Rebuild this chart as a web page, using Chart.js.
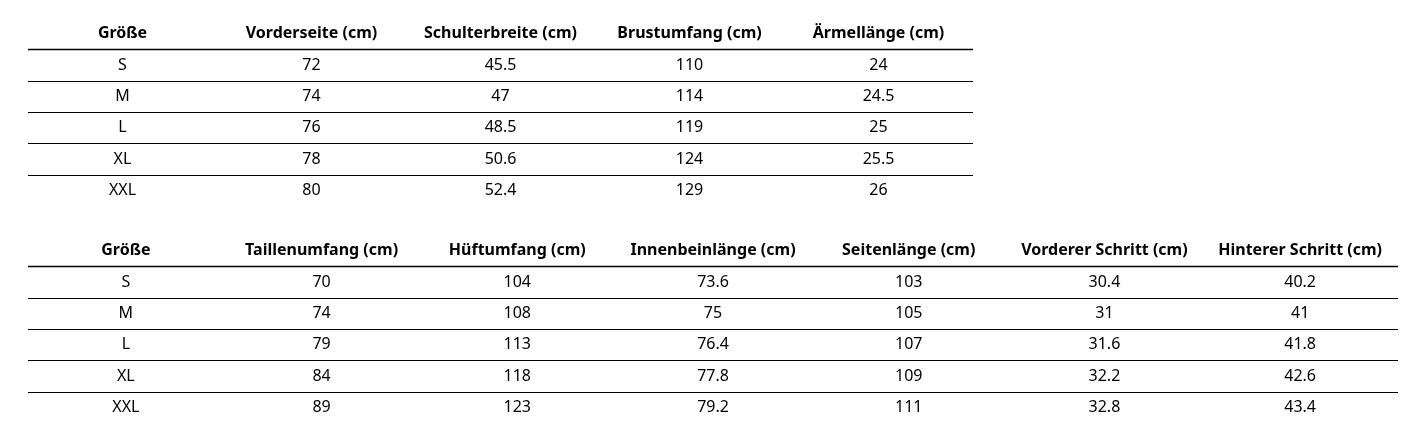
<!DOCTYPE html>
<html>
<head>
<meta charset="utf-8">
<script src="https://cdn.jsdelivr.net/npm/chart.js@4/dist/chart.umd.min.js"></script>
<style>
  body { margin: 0; background: #fff; width: 1417px; height: 427px; position: relative; overflow: hidden; }
  canvas { position: absolute; }
</style>
</head>
<body>
<canvas id="topTable" width="945" height="188" style="left:28px;top:18px"></canvas>
<canvas id="bottomTable" width="1370" height="188" style="left:28px;top:235px"></canvas>
<script>
// sizes shared by both tables
const sizes = ['S', 'M', 'L', 'XL', 'XXL'];

// upper table
const topHeaders = ['Größe', 'Vorderseite (cm)', 'Schulterbreite (cm)', 'Brustumfang (cm)', 'Ärmellänge (cm)'];
const vorderseite = ['72', '74', '76', '78', '80'];
const schulterbreite = ['45.5', '47', '48.5', '50.6', '52.4'];
const brustumfang = ['110', '114', '119', '124', '129'];
const aermellaenge = ['24', '24.5', '25', '25.5', '26'];

// lower table
const bottomHeaders = ['Größe', 'Taillenumfang (cm)', 'Hüftumfang (cm)', 'Innenbeinlänge (cm)', 'Seitenlänge (cm)', 'Vorderer Schritt (cm)', 'Hinterer Schritt (cm)'];
const taillenumfang = ['70', '74', '79', '84', '89'];
const hueftumfang = ['104', '108', '113', '118', '123'];
const innenbein = ['73.6', '75', '76.4', '77.8', '79.2'];
const seitenlaenge = ['103', '105', '107', '109', '111'];
const vordererSchritt = ['30.4', '31', '31.6', '32.2', '32.8'];
const hintererSchritt = ['40.2', '41', '41.8', '42.6', '43.4'];

const FONT = '"Noto Sans", "Open Sans", sans-serif';

// draws the text cells and rules of a table at the category positions
const tablePlugin = {
    id: 'tableCells',
    afterDraw(chart) {
        const ctx = chart.ctx;
        const xs = chart.scales.x;
        const ys = chart.scales.y;
        const cols = chart.options.plugins.tableCells.columns;
        const headers = chart.data.labels;
        const area = chart.chartArea;
        const step = ys.getPixelForValue(1) - ys.getPixelForValue(0);

        ctx.save();
        ctx.textAlign = 'center';
        ctx.textBaseline = 'middle';
        ctx.fillStyle = '#000';

        headers.forEach((h, ci) => {
            ctx.font = 'bold 16px ' + FONT;
            ctx.fillText(h, xs.getPixelForValue(ci), ys.getPixelForValue(0));
            ctx.font = '16px ' + FONT;
            cols[ci].forEach((v, ri) => {
                ctx.fillText(v, xs.getPixelForValue(ci), ys.getPixelForValue(ri + 1));
            });
        });

        // horizontal rules between rows
        ctx.strokeStyle = '#000';
        for (let ri = 0; ri < cols[0].length; ri++) {
            const y = Math.round(ys.getPixelForValue(ri) + step / 2) + 0.5;
            ctx.lineWidth = ri == 0 ? 1.6 : 1.2;
            ctx.beginPath();
            ctx.moveTo(area.left, y);
            ctx.lineTo(area.right, y);
            ctx.stroke();
        }
        ctx.restore();
    }
};

function makeTable(id, headers, columns) {
    const rows = ['header'].concat(sizes);
    return new Chart(document.getElementById(id), {
        type: 'line',
        data: { labels: headers, datasets: [{ data: [], showLine: false, pointRadius: 0 }] },
        options: {
            responsive: false,
            animation: false,
            layout: { padding: 0 },
            scales: {
                x: { type: 'category', labels: headers, offset: true, display: false },
                y: { type: 'category', labels: rows, offset: true, display: false }
            },
            plugins: {
                legend: { display: false },
                tooltip: { enabled: false },
                tableCells: { columns: columns }
            }
        },
        plugins: [tablePlugin]
    });
}

makeTable('topTable', topHeaders, [sizes, vorderseite, schulterbreite, brustumfang, aermellaenge]);
makeTable('bottomTable', bottomHeaders, [sizes, taillenumfang, hueftumfang, innenbein, seitenlaenge, vordererSchritt, hintererSchritt]);
</script>
</body>
</html>
